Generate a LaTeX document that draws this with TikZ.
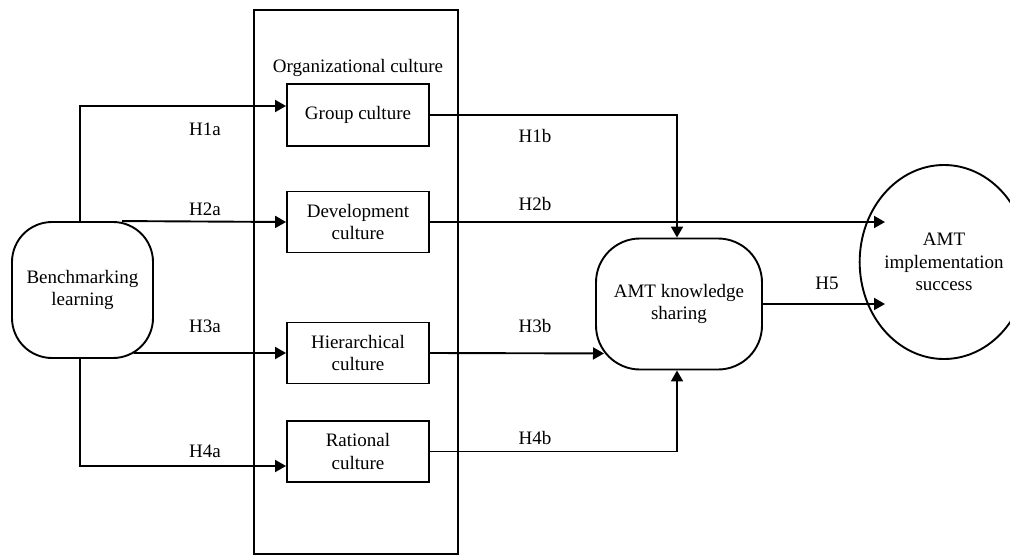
\documentclass[tikz,border=0pt]{standalone}
\usepackage{fontspec}
\setmainfont{Liberation Serif}
\usetikzlibrary{arrows.meta,shapes.geometric}
\tikzset{
  every node/.style={font=\fontsize{19}{22.5}\selectfont, align=center, inner sep=0pt},
  boxnode/.style={draw, line width=1.9pt, minimum width=142pt, minimum height=61pt},
  roundnode/.style={draw, line width=1.9pt, rounded corners=40pt},
  conn/.style={line width=1.9pt, -{Triangle[length=11pt,width=12pt]}},
  lbl/.style={}
}
\begin{document}
\begin{tikzpicture}[x=1pt,y=-1pt]
\useasboundingbox (0,0) rectangle (1010,557);
% frame
\node[draw, line width=1.9pt, minimum width=204pt, minimum height=544pt] (org) at (356,282) {};
\node (orglabel) at (358,68) {Organizational culture};
% nodes
\node[roundnode, minimum width=141pt, minimum height=136pt] (bench) at (82.5,290) {Benchmarking\\learning};
\node[boxnode, minimum height=62pt] (group) at (358,115) {Group culture};
\node[boxnode] (dev) at (358,222) {Development\\culture};
\node[boxnode] (hier) at (358,353) {Hierarchical\\culture};
\node[boxnode] (rat) at (358,451.5) {Rational\\culture};
\node[roundnode, rounded corners=44pt, minimum width=166pt, minimum height=131pt] (ks) at (679,304) {AMT knowledge\\sharing};
\node[draw, ellipse, line width=1.9pt, minimum width=128pt, minimum height=194pt] (impl) at (944,262) {AMT\\implementation\\success};
% left connectors
\draw[conn] ([xshift=-2.5pt]bench.north) |- ([yshift=9pt]group.west);
\draw[conn] ([xshift=39.5pt]bench.north) -- (dev.west);
\draw[conn] ([shift={(51pt,6pt)}]bench.south) -- (hier.west);
\draw[conn] ([xshift=-2.5pt]bench.south) |- ([yshift=-14.5pt]rat.west);
% right connectors
\draw[conn] (group.east) -| ([xshift=-2pt]ks.north);
\draw[conn] (dev.east) -- ([shift={(-59pt,40pt)}]impl.center);
\draw[conn] (hier.east) -- ([shift={(-75pt,17pt)}]ks.south);
\draw[conn] (rat.east) -| ([xshift=-2pt]ks.south);
\draw[conn] (ks.east) -- ([shift={(-59pt,-42pt)}]impl.center);
% labels
\node[lbl] (l1a) at (205,129) {H1a};
\node[lbl] (l2a) at (205,209) {H2a};
\node[lbl] (l3a) at (205,326) {H3a};
\node[lbl] (l4a) at (205,451) {H4a};
\node[lbl] (l1b) at (535,136) {H1b};
\node[lbl] (l2b) at (535,204) {H2b};
\node[lbl] (l3b) at (535,326) {H3b};
\node[lbl] (l4b) at (535,438) {H4b};
\node[lbl] (l5) at (827,283) {H5};
\end{tikzpicture}
\end{document}
